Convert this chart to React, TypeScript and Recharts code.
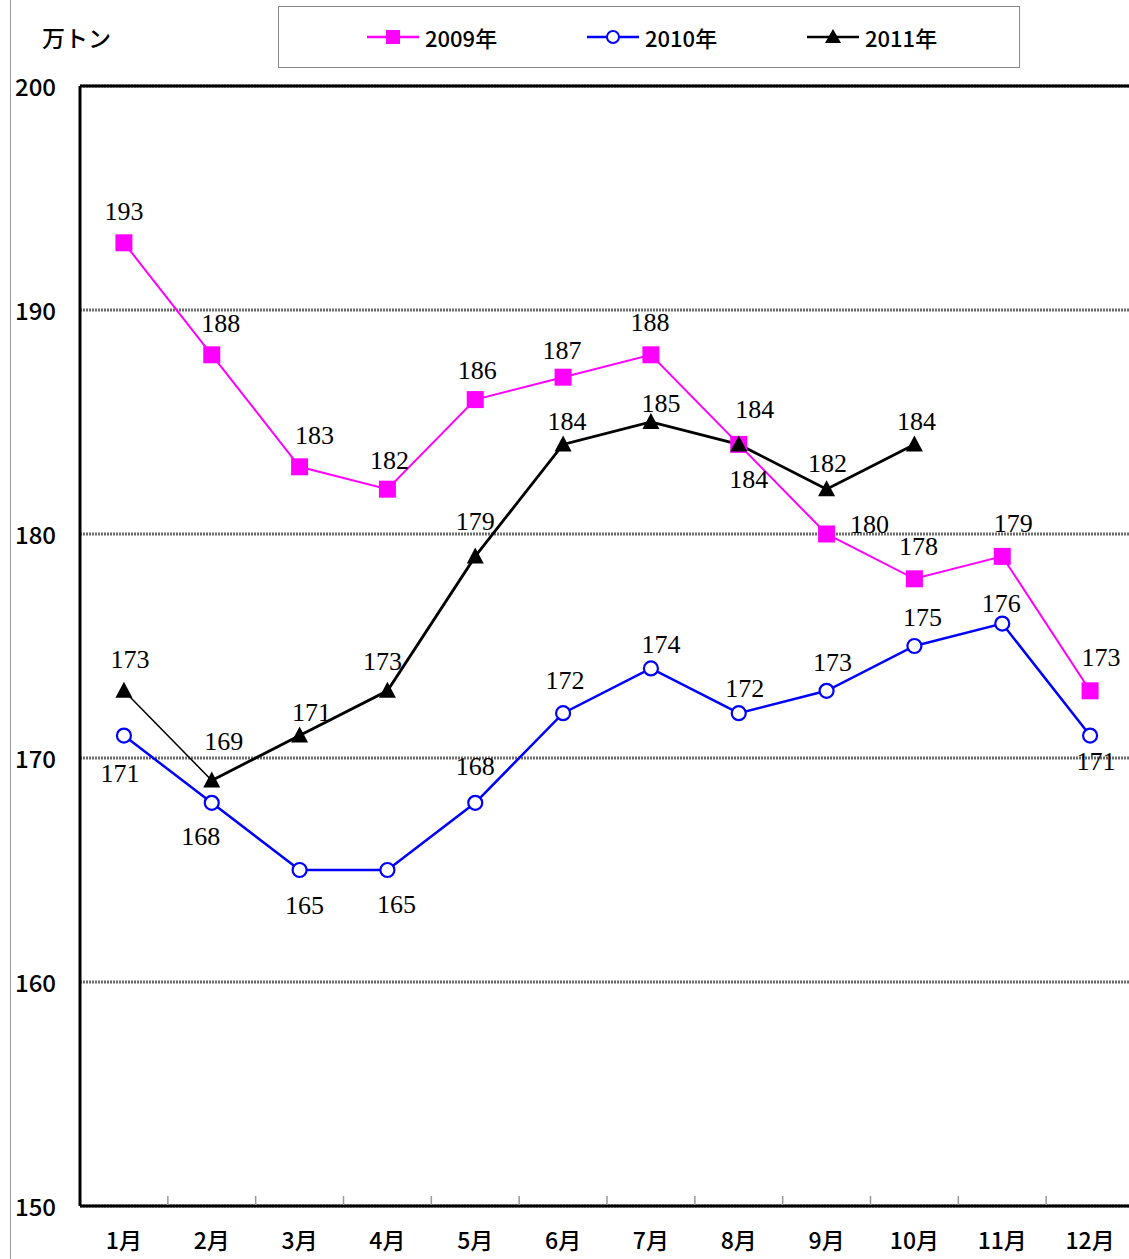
import React from "react";
import {
  LineChart,
  Line,
  XAxis,
  YAxis,
  CartesianGrid,
  ReferenceLine,
} from "recharts";

const months = ["1月", "2月", "3月", "4月", "5月", "6月", "7月", "8月", "9月", "10月", "11月", "12月"];
const s2009 = [193, 188, 183, 182, 186, 187, 188, 184, 180, 178, 179, 173];
const s2010 = [171, 168, 165, 165, 168, 172, 174, 172, 173, 175, 176, 171];
const s2011 = [173, 169, 171, 173, 179, 184, 185, 184, 182, 184];
const yTicks = [150, 160, 170, 180, 190, 200];
const seriesNames = ["2009年", "2010年", "2011年"];

// label nudges (dx, dy) from each point
const off2009 = [[0, -31], [9, -31], [15, -31], [2, -29], [2, -29], [-1, -27], [-1, -32], [10, 35], [43, -10], [4, -32], [11, -33], [11, -33]];
const off2010 = [[-4, 38], [-11, 34], [5, 35], [9, 34], [0, -36], [2, -33], [10, -24], [6, -25], [6, -28], [8, -29], [-1, -20], [6, 26]];
const off2011 = [[6, -31], [12, -39], [12, -23], [-5, -29], [0, -35], [4, -23], [10, -19], [16, -35], [1, -26], [2, -23]];

const MAGENTA = "#ff00ff";
const BLUE = "#0000ff";
const BLACK = "#000000";

const rows = months.map((m, i) => ({
  x: i + 1,
  name: m,
  a: s2009[i],
  b: s2010[i],
  c: i >= 1 && i < s2011.length ? s2011[i] : null,
  c0: i <= 1 ? s2011[i] : null,
}));

const xTicks = months.flatMap((_, i) => (i < months.length - 1 ? [i + 1, i + 1.5] : [i + 1]));

const sansFont = "'Noto Sans CJK JP', 'Noto Sans', sans-serif";
const serifFont = "'Liberation Serif', 'DejaVu Serif', serif";

const Square = ({ cx, cy, size = 17 }: any) => (
  <rect x={cx - size / 2} y={cy - size / 2} width={size} height={size} fill={MAGENTA} />
);

const Triangle = ({ cx, cy }: any) => (
  <polygon points={`${cx},${cy - 9} ${cx - 8.5},${cy + 7} ${cx + 8.5},${cy + 7}`} fill={BLACK} />
);

const makeLabel = (offsets: number[][], only?: number) => (props: any) => {
  const { x, y, value, index } = props;
  if (value == null || x == null || y == null) return null;
  if (only != null && index !== only) return null;
  const o = offsets[index] || [0, -28];
  return (
    <text
      key={`l-${index}`}
      x={x + o[0]}
      y={y + o[1]}
      textAnchor="middle"
      dominantBaseline="central"
      style={{ fontFamily: serifFont, fontSize: 26 }}
      fill="#000"
    >
      {value}
    </text>
  );
};

const XTick = ({ x, y, payload }: any) => {
  const v = payload.value;
  if (Number.isInteger(v)) {
    return (
      <text
        x={x}
        y={y + 33}
        textAnchor="middle"
        dominantBaseline="central"
        style={{ fontFamily: sansFont, fontSize: 23, fontWeight: 500 }}
        fill="#000"
      >
        {months[v - 1]}
      </text>
    );
  }
  return <line x1={x} x2={x} y1={y - 1} y2={y - 10} stroke="#999" strokeWidth={1.5} />;
};

const YTick = ({ y, payload }: any) => (
  <text
    x={15}
    y={y - 1}
    textAnchor="start"
    dominantBaseline="central"
    style={{ fontFamily: sansFont, fontSize: 24, fontWeight: 500 }}
    fill="#000"
  >
    {payload.value}
  </text>
);

const LegendBox = () => {
  const items = [
    { name: seriesNames[0], color: MAGENTA, mark: "square" },
    { name: seriesNames[1], color: BLUE, mark: "circle" },
    { name: seriesNames[2], color: BLACK, mark: "triangle" },
  ];
  return (
    <div
      style={{
        position: "absolute",
        left: 278,
        top: 6,
        width: 740,
        height: 60,
        border: "1px solid #888",
        background: "#fff",
      }}
    >
      {items.map((it, i) => (
        <div
          key={it.name}
          style={{ position: "absolute", left: 88 + i * 220, top: 0, height: 60, display: "flex", alignItems: "center" }}
        >
          <svg width={52} height={20}>
            <line x1={0} x2={52} y1={10} y2={10} stroke={it.color} strokeWidth={2.5} />
            {it.mark === "square" && <rect x={19} y={3} width={14} height={14} fill={MAGENTA} />}
            {it.mark === "circle" && <circle cx={26} cy={10} r={6} fill="#fff" stroke={BLUE} strokeWidth={2} />}
            {it.mark === "triangle" && <polygon points="26,2 18,16 34,16" fill={BLACK} />}
          </svg>
          <span style={{ marginLeft: 6, fontFamily: sansFont, fontSize: 22, fontWeight: 500, color: "#000" }}>{it.name}</span>
        </div>
      ))}
    </div>
  );
};

export default function App() {
  return (
    <div style={{ position: "absolute", left: 0, top: 0, width: 1129, height: 1259, background: "#fff", overflow: "hidden" }}>
      <div style={{ position: "absolute", left: 10, top: 0, width: 1, height: 1259, background: "#999" }} />
      <div
        style={{
          position: "absolute",
          left: 42,
          top: 20,
          fontFamily: sansFont,
          fontSize: 23,
          fontWeight: 500,
          color: "#000",
        }}
      >
        万トン
      </div>
      <LineChart width={1129} height={1259} data={rows} margin={{ top: 86, right: -5, left: 0, bottom: 0 }}>
        <CartesianGrid vertical={false} stroke="#6a6a6a" strokeWidth={3} strokeDasharray="2 1" />
        <XAxis
          dataKey="x"
          type="number"
          domain={[0.5, 12.5]}
          ticks={xTicks}
          interval={0}
          height={53}
          tickSize={0}
          tickMargin={0}
          tickLine={false}
          axisLine={{ stroke: "#000", strokeWidth: 3 }}
          tick={<XTick />}
        />
        <YAxis
          type="number"
          domain={[150, 200]}
          ticks={yTicks}
          width={80}
          tickLine={false}
          axisLine={{ stroke: "#000", strokeWidth: 3 }}
          tick={<YTick />}
        />
        <ReferenceLine y={200} stroke="#000" strokeWidth={3} />
        <Line
          dataKey="a"
          stroke={MAGENTA}
          strokeWidth={2}
          isAnimationActive={false}
          dot={(p: any) => <Square key={`a-${p.index}`} cx={p.cx} cy={p.cy} />}
          label={makeLabel(off2009)}
        />
        <Line
          dataKey="b"
          stroke={BLUE}
          strokeWidth={2.5}
          isAnimationActive={false}
          dot={{ r: 7, fill: "#fff", stroke: BLUE, strokeWidth: 2.2 }}
          label={makeLabel(off2010)}
        />
        <Line
          dataKey="c0"
          stroke={BLACK}
          strokeWidth={1.5}
          isAnimationActive={false}
          dot={(p: any) =>
            p.index === 0 ? <Triangle key={`c0-${p.index}`} cx={p.cx} cy={p.cy} /> : <g key={`c0-${p.index}`} />
          }
          label={makeLabel(off2011, 0)}
        />
        <Line
          dataKey="c"
          stroke={BLACK}
          strokeWidth={2.8}
          isAnimationActive={false}
          dot={(p: any) =>
            p.value == null || p.cy == null ? <g key={`c-${p.index}`} /> : <Triangle key={`c-${p.index}`} cx={p.cx} cy={p.cy} />
          }
          label={makeLabel(off2011)}
        />
      </LineChart>
      <LegendBox />
    </div>
  );
}
